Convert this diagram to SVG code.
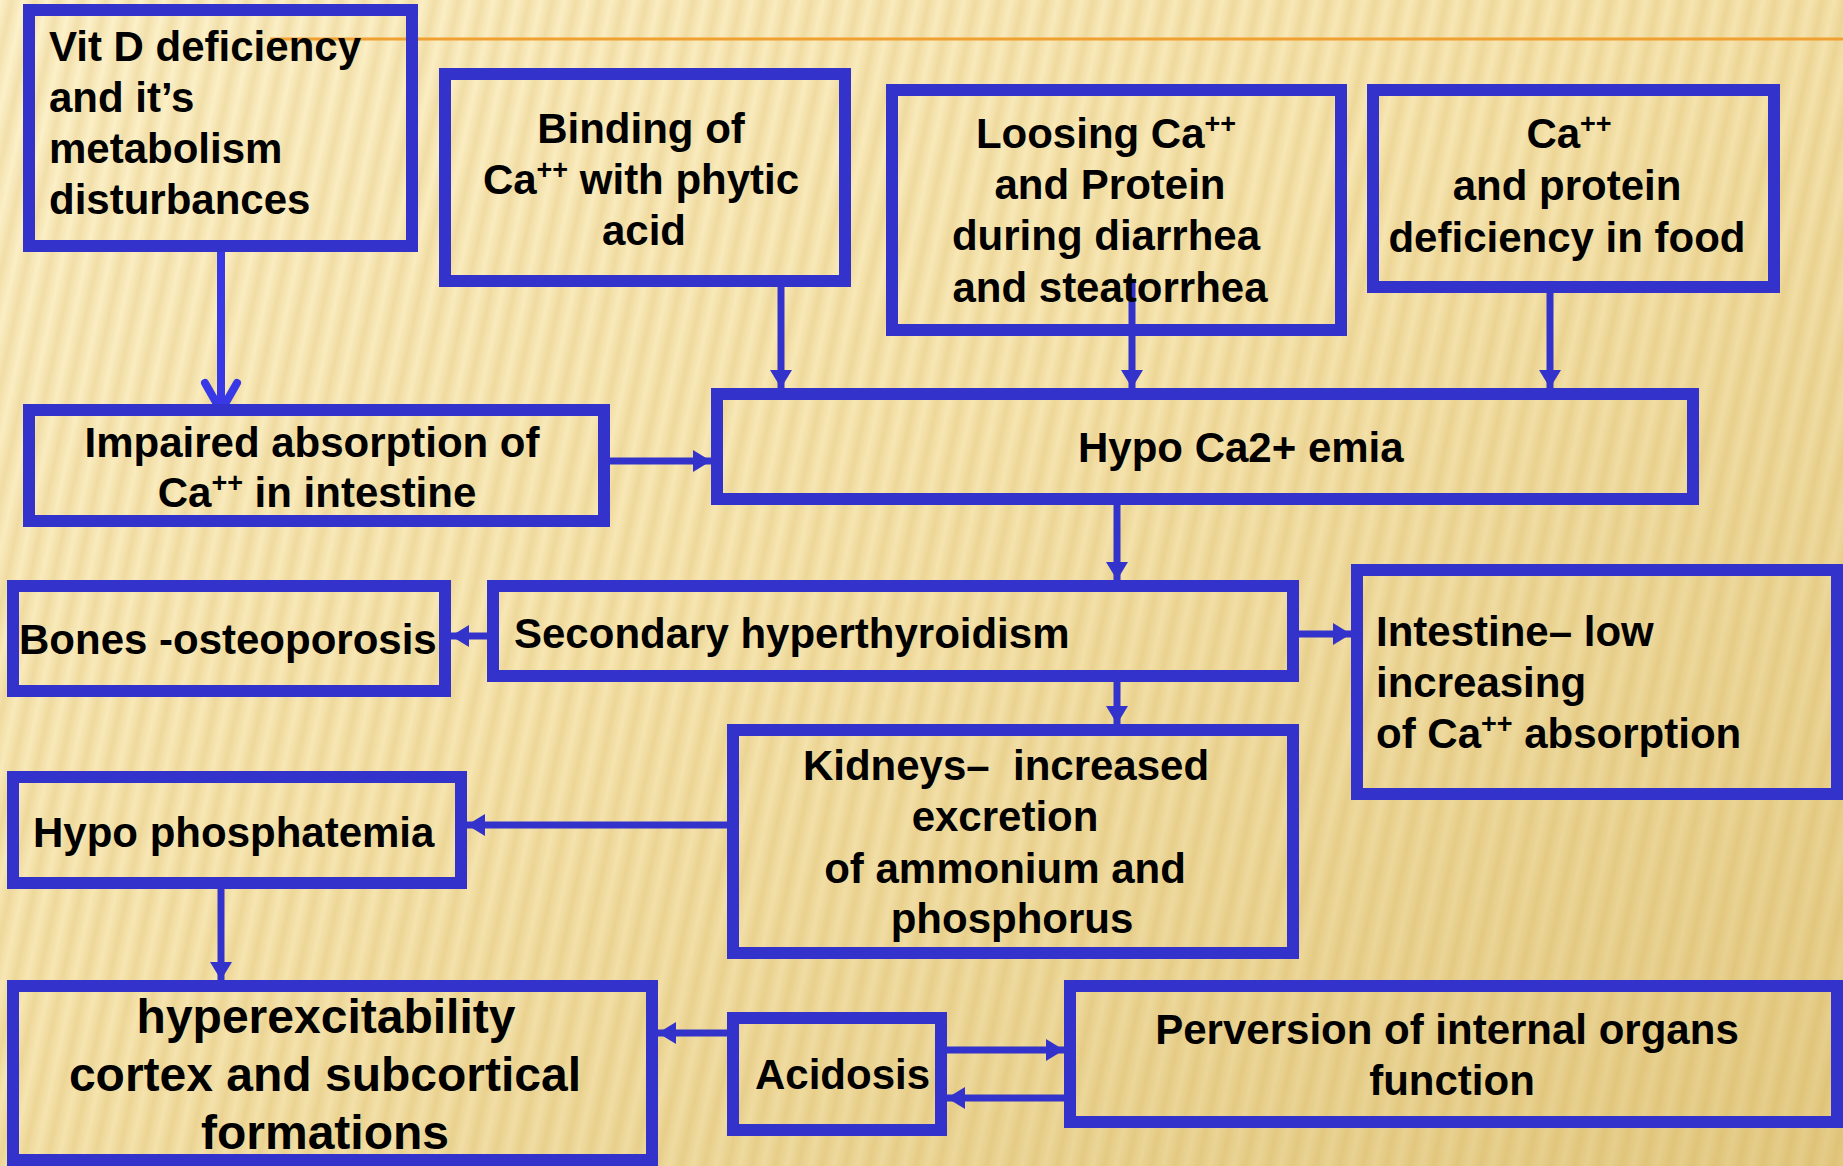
<svg xmlns="http://www.w3.org/2000/svg" width="1843" height="1166" viewBox="0 0 1843 1166">
<defs>
<linearGradient id="bg" x1="0" y1="0" x2="1" y2="1">
<stop offset="0" stop-color="#FDF2CC"/>
<stop offset="0.45" stop-color="#F7E6B2"/>
<stop offset="1" stop-color="#E4CC88"/>
</linearGradient>
<linearGradient id="sg" x1="0" y1="0" x2="1" y2="0">
<stop offset="0" stop-color="#C89A30" stop-opacity="0"/>
<stop offset="0.5" stop-color="#C89A30" stop-opacity="0.2"/>
<stop offset="1" stop-color="#C89A30" stop-opacity="0"/>
</linearGradient>
<pattern id="stripes" width="23" height="200" patternUnits="userSpaceOnUse" patternTransform="rotate(12)">
<rect width="23" height="200" fill="url(#sg)"/>
</pattern>
<marker id="ah" markerUnits="userSpaceOnUse" markerWidth="18" markerHeight="22" refX="18" refY="11" orient="auto">
<path d="M0,0 L18,11 L0,22 z" fill="#3333CC"/>
</marker>
<style>
.box{fill:none;stroke:#3333CC;stroke-width:12}
.t{font-family:"Liberation Sans",Arial,sans-serif;font-weight:bold;font-size:42px;fill:#000}
.c{text-anchor:middle}
.big{font-size:48px}
.con{fill:none;stroke:#3333CC;stroke-width:7;marker-end:url(#ah)}
</style>
</defs>
<rect width="1843" height="1166" fill="url(#bg)"/>
<rect width="1843" height="1166" fill="url(#stripes)"/>
<line x1="270" y1="39" x2="1843" y2="39" stroke="#F0A030" stroke-width="3"/>

<g id="connectors">
<line x1="221" y1="252" x2="221" y2="410" stroke="#3838E6" stroke-width="8"/>
<polyline points="205,383 221,411 237,383" fill="none" stroke="#3838E6" stroke-width="8" stroke-linecap="round" stroke-linejoin="round"/>
<path class="con" d="M781,287 V388"/>
<path class="con" d="M1132,280 V388"/>
<path class="con" d="M1550,287 V388"/>
<path class="con" d="M610,461 H711"/>
<path class="con" d="M1117,505 V580"/>
<path class="con" d="M487,636 H451"/>
<path class="con" d="M1299,634 H1351"/>
<path class="con" d="M1117,682 V724"/>
<path class="con" d="M727,825 H467"/>
<path class="con" d="M221,889 V980"/>
<path class="con" d="M727,1033 H658"/>
<path class="con" d="M947,1050 H1064"/>
<path class="con" d="M1064,1098 H947"/>
</g>

<g id="vitd">
<rect class="box" x="29" y="10" width="383" height="236"/>
<text class="t" x="49" y="61">Vit D deficiency</text>
<text class="t" x="49" y="112">and it’s</text>
<text class="t" x="49" y="163">metabolism</text>
<text class="t" x="49" y="214">disturbances</text>
</g>

<g id="binding">
<rect class="box" x="445" y="74" width="400" height="207"/>
<text class="t c" x="641" y="143">Binding of</text>
<text class="t c" x="641" y="194">Ca<tspan font-size="27" dy="-15">++</tspan><tspan dy="15"> with phytic</tspan></text>
<text class="t c" x="644" y="245">acid</text>
</g>

<g id="loosing">
<rect class="box" x="892" y="90" width="449" height="240"/>
<text class="t c" x="1106" y="148">Loosing Ca<tspan font-size="27" dy="-15">++</tspan></text>
<text class="t c" x="1110" y="199">and Protein</text>
<text class="t c" x="1106" y="250">during diarrhea</text>
<text class="t c" x="1110" y="302">and steatorrhea</text>
</g>

<g id="food">
<rect class="box" x="1373" y="90" width="401" height="197"/>
<text class="t c" x="1569" y="148">Ca<tspan font-size="27" dy="-15">++</tspan></text>
<text class="t c" x="1567" y="200">and protein</text>
<text class="t c" x="1567" y="252">deficiency in food</text>
</g>

<g id="impaired">
<rect class="box" x="29" y="410" width="575" height="111"/>
<text class="t c" x="312" y="457">Impaired absorption of</text>
<text class="t c" x="317" y="507">Ca<tspan font-size="27" dy="-15">++</tspan><tspan dy="15"> in intestine</tspan></text>
</g>

<g id="hypoca">
<rect class="box" x="717" y="394" width="976" height="105"/>
<text class="t" x="1078" y="462">Hypo Ca2+ emia</text>
</g>

<g id="bones">
<rect class="box" x="13" y="586" width="432" height="105"/>
<text class="t" x="19" y="654">Bones -osteoporosis</text>
</g>

<g id="secondary">
<rect class="box" x="493" y="586" width="800" height="90"/>
<text class="t" x="514" y="648">Secondary hyperthyroidism</text>
</g>

<g id="intestine">
<rect class="box" x="1357" y="570" width="480" height="224"/>
<text class="t" x="1376" y="646">Intestine– low</text>
<text class="t" x="1376" y="697">increasing</text>
<text class="t" x="1376" y="748">of Ca<tspan font-size="27" dy="-15">++</tspan><tspan dy="15"> absorption</tspan></text>
</g>

<g id="kidneys">
<rect class="box" x="733" y="730" width="560" height="223"/>
<text class="t c" x="1006" y="780" xml:space="preserve">Kidneys–  increased</text>
<text class="t c" x="1005" y="831">excretion</text>
<text class="t c" x="1005" y="883">of ammonium and</text>
<text class="t c" x="1012" y="933">phosphorus</text>
</g>

<g id="hypophos">
<rect class="box" x="13" y="777" width="448" height="106"/>
<text class="t" x="33" y="847">Hypo phosphatemia</text>
</g>

<g id="hyperex">
<rect class="box" x="13" y="986" width="639" height="174"/>
<text class="t c big" x="326" y="1033">hyperexcitability</text>
<text class="t c big" x="325" y="1091">cortex and subcortical</text>
<text class="t c big" x="325" y="1149">formations</text>
</g>

<g id="acidosis">
<rect class="box" x="733" y="1018" width="208" height="112"/>
<text class="t" x="755" y="1089">Acidosis</text>
</g>

<g id="perversion">
<rect class="box" x="1070" y="986" width="767" height="136"/>
<text class="t c" x="1447" y="1044">Perversion of internal organs</text>
<text class="t c" x="1452" y="1095">function</text>
</g>
</svg>
